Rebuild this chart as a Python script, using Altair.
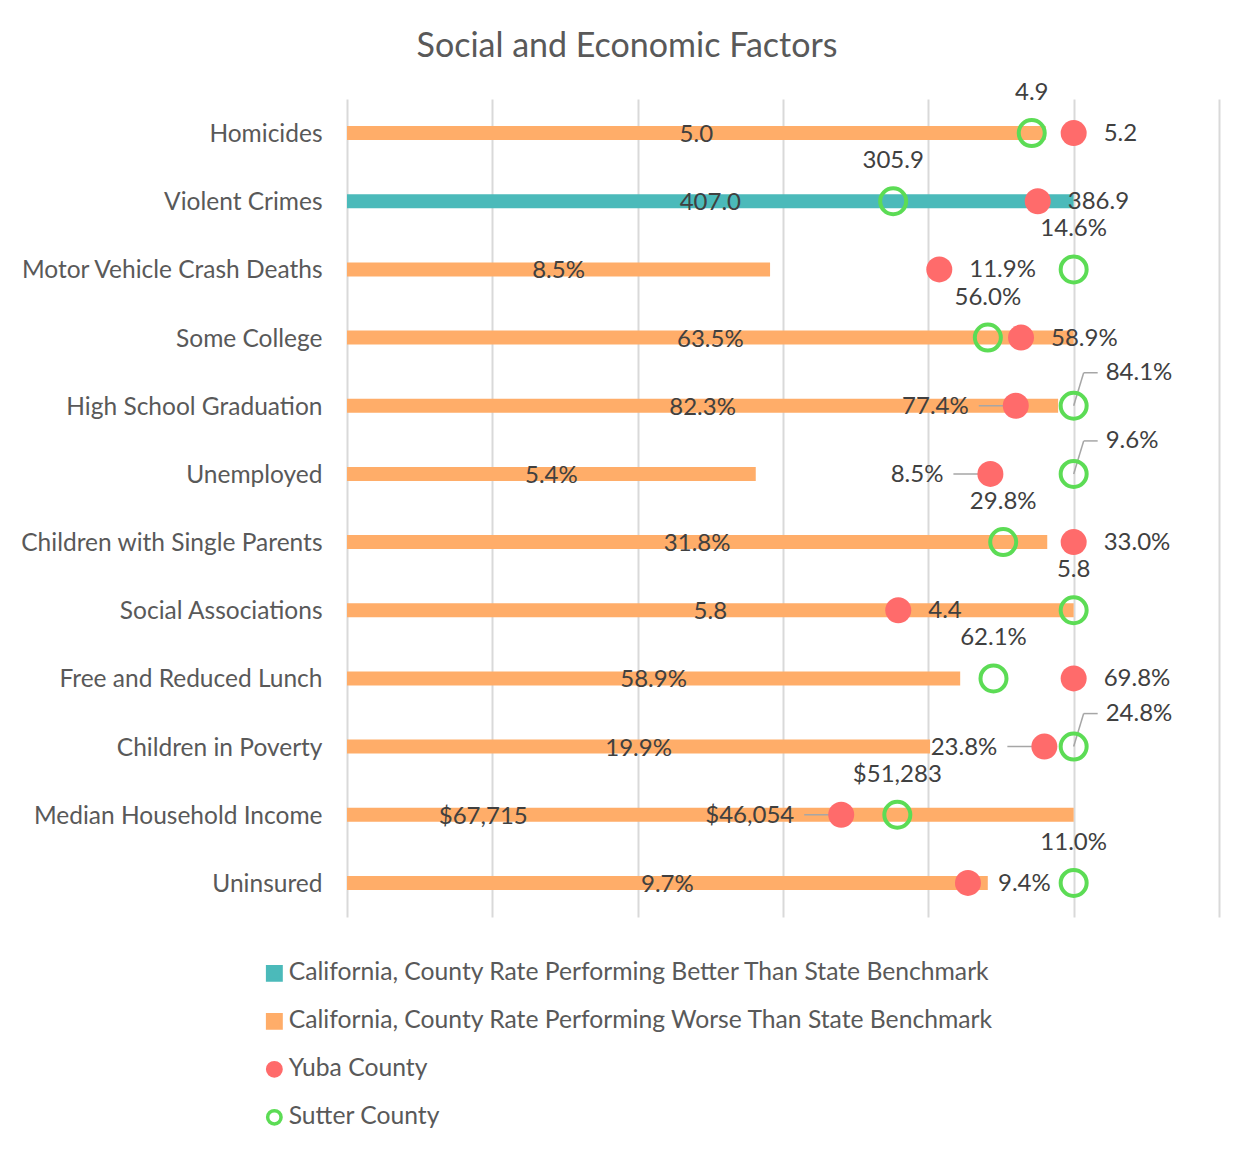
import altair as alt
import pandas as pd

categories = ["Homicides", "Violent Crimes", "Motor Vehicle Crash Deaths", "Some College",
              "High School Graduation", "Unemployed", "Children with Single Parents",
              "Social Associations", "Free and Reduced Lunch", "Children in Poverty",
              "Median Household Income", "Uninsured"]
california = [5.0, 407.0, 8.5, 63.5, 82.3, 5.4, 31.8, 5.8, 58.9, 19.9, 67715, 9.7]
yuba = [5.2, 386.9, 11.9, 58.9, 77.4, 8.5, 33.0, 4.4, 69.8, 23.8, 46054, 9.4]
sutter = [4.9, 305.9, 14.6, 56.0, 84.1, 9.6, 29.8, 5.8, 62.1, 24.8, 51283, 11.0]
units = ["", "", "%", "%", "%", "%", "%", "", "%", "%", "$", "%"]
better_than_state = [False, True, False, False, False, False, False, False, False, False, False, False]

S_BETTER = "California, County Rate Performing Better Than State Benchmark"
S_WORSE = "California, County Rate Performing Worse Than State Benchmark"
S_YUBA = "Yuba County"
S_SUTTER = "Sutter County"
series_names = [S_BETTER, S_WORSE, S_YUBA, S_SUTTER]

TEAL = "#4BBABA"
ORANGE = "#FFAD69"
RED = "#FF6B6B"
GREEN = "#5CDC55"
FONT = "Lato"
TXT = "#404040"
AXT = "#595959"


def fmt(v, u):
    if u == "$":
        return f"${v:,.0f}"
    if u == "%":
        return f"{v:.1f}%"
    return f"{v:.1f}"


df = pd.DataFrame({
    "category": categories,
    "cal": california,
    "yuba": yuba,
    "sutter": sutter,
    "cal_label": [fmt(v, u) for v, u in zip(california, units)],
    "yuba_label": [fmt(v, u) for v, u in zip(yuba, units)],
    "sutter_label": [fmt(v, u) for v, u in zip(sutter, units)],
    "series": [S_BETTER if b else S_WORSE for b in better_than_state],
})

base = (
    alt.Chart(df)
    .transform_calculate(maxv="max(datum.cal, datum.yuba, datum.sutter)")
    .transform_calculate(
        cal_n="datum.cal / datum.maxv",
        yuba_n="datum.yuba / datum.maxv",
        sutter_n="datum.sutter / datum.maxv",
    )
    .transform_calculate(
        yuba_left="datum.sutter_n > datum.yuba_n && datum.sutter_n - datum.yuba_n < 0.13",
    )
    .transform_calculate(
        sutter_side="datum.yuba_left && datum.sutter_n >= 0.999",
        cal_mid="(datum.yuba_left && datum.yuba_n - datum.cal_n / 2 < 0.3) ? datum.cal_n * 0.1875 : datum.cal_n / 2",
    )
)

xscale = alt.Scale(domain=[0, 1.2], nice=False, zero=True)
xaxis = alt.Axis(values=[0, 0.2, 0.4, 0.6, 0.8, 1.0, 1.2], labels=False, ticks=False,
                 domain=False, grid=True, gridColor="#D9D9D9", gridWidth=2, title=None)


def X(field):
    return alt.X(f"{field}:Q", scale=xscale, axis=xaxis)


y = alt.Y(
    "category:N",
    sort=categories,
    scale=alt.Scale(paddingInner=0, paddingOuter=0),
    axis=alt.Axis(title=None, labelFont=FONT, labelFontSize=24.5, labelColor=AXT,
                  labelPadding=25, labelOffset=2, ticks=False, domain=False, grid=False, labelLimit=0),
)

legend = alt.Legend(
    title=None, orient="none", legendX=-85, legendY=862, direction="vertical",
    labelFont=FONT, labelFontSize=24.7, labelColor=AXT, symbolSize=180,
    symbolStrokeWidth=3.5, labelOffset=2, rowPadding=19, padding=0,
    symbolOpacity=1, labelLimit=0,
)
fill_enc = alt.Fill("series:N", scale=alt.Scale(domain=series_names, range=[TEAL, ORANGE, RED, "transparent"]), legend=legend)
stroke_enc = alt.Stroke("series:N", scale=alt.Scale(domain=series_names, range=[TEAL, ORANGE, RED, GREEN]), legend=legend)
shape_enc = alt.Shape("series:N", scale=alt.Scale(domain=series_names, range=["square", "square", "circle", "circle"]), legend=legend)

bars = base.mark_bar(size=14, strokeWidth=0).encode(
    x=X("cal_n"), y=y, fill=fill_enc, stroke=stroke_enc)

bar_labels = base.mark_text(font=FONT, fontSize=24, color=TXT, align="center", baseline="middle", dy=2).encode(
    x=X("cal_mid"), y=y, text="cal_label:N")

yuba_lead = base.transform_filter("datum.yuba_left").mark_rule(
    color="#A6A6A6", strokeWidth=1.5, xOffset=-37, x2Offset=0).encode(
    x=X("yuba_n"), x2="yuba_n:Q", y=y)

sutter_lead1 = base.transform_filter("datum.sutter_side").mark_rule(
    color="#A6A6A6", strokeWidth=1.5, x2Offset=10, y2Offset=-33).encode(
    x=X("sutter_n"), x2="sutter_n:Q", y=y, y2="category:N")

sutter_lead2 = base.transform_filter("datum.sutter_side").mark_rule(
    color="#A6A6A6", strokeWidth=1.5, xOffset=10, x2Offset=24, yOffset=-33).encode(
    x=X("sutter_n"), x2="sutter_n:Q", y=y)

yuba_pts = base.transform_calculate(series=f"'{S_YUBA}'").mark_point(
    filled=True, size=676, strokeWidth=0, opacity=1).encode(
    x=X("yuba_n"), y=y, fill=fill_enc, stroke=stroke_enc, shape=shape_enc)

sutter_pts = base.transform_calculate(series=f"'{S_SUTTER}'").mark_point(
    filled=True, size=676, strokeWidth=4, opacity=1).encode(
    x=X("sutter_n"), y=y, fill=fill_enc, stroke=stroke_enc, shape=shape_enc)

text_style = dict(font=FONT, fontSize=24, color=TXT, baseline="middle")

yuba_lab_r = base.transform_filter("!datum.yuba_left").mark_text(align="left", dx=30, dy=1, **text_style).encode(
    x=X("yuba_n"), y=y, text="yuba_label:N")
yuba_lab_l = base.transform_filter("datum.yuba_left").mark_text(align="right", dx=-47, dy=1, **text_style).encode(
    x=X("yuba_n"), y=y, text="yuba_label:N")
sutter_lab_up = base.transform_filter("!datum.sutter_side").mark_text(align="center", dy=-40, **text_style).encode(
    x=X("sutter_n"), y=y, text="sutter_label:N")
sutter_lab_side = base.transform_filter("datum.sutter_side").mark_text(align="left", dx=32, dy=-33, **text_style).encode(
    x=X("sutter_n"), y=y, text="sutter_label:N")

chart = alt.layer(
    bars, bar_labels, yuba_lead, sutter_lead1, sutter_lead2, yuba_pts, sutter_pts,
    yuba_lab_r, yuba_lab_l, sutter_lab_up, sutter_lab_side,
).properties(
    width=872,
    height=818,
    background="white",
    title=alt.TitleParams("Social and Economic Factors", font=FONT, fontSize=34, color=AXT,
                          fontWeight="normal", anchor="middle", dx=-156, offset=17),
    autosize=alt.AutoSizeParams(type="none"),
    padding={"left": 339, "top": 91, "right": 14, "bottom": 220},
).configure_view(stroke="transparent", strokeWidth=0)

chart.save("out.html", embed_options={"renderer": "svg", "actions": False})
